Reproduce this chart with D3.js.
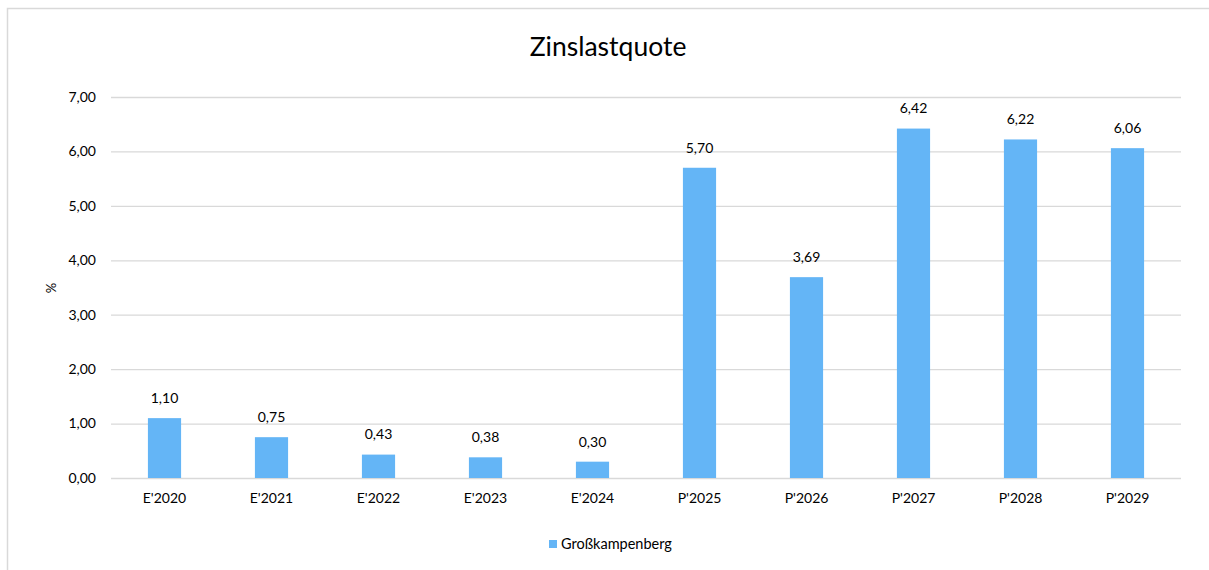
<!DOCTYPE html>
<html>
<head>
<meta charset="utf-8">
<script src="https://cdn.jsdelivr.net/npm/d3@7"></script>
<style>
  body { margin: 0; background: #fff; }
  text { font-family: Lato, "Noto Sans", sans-serif; fill: #000; }
</style>
</head>
<body>
<div id="chart"></div>
<script>
const width = 1209;
const height = 570;

// Daten
const categories = ["E'2020", "E'2021", "E'2022", "E'2023", "E'2024", "P'2025", "P'2026", "P'2027", "P'2028", "P'2029"];
const values = [1.10, 0.75, 0.43, 0.38, 0.30, 5.70, 3.69, 6.42, 6.22, 6.06];
const yTicks = [0, 1, 2, 3, 4, 5, 6, 7];
const seriesName = "Großkampenberg";
const title = "Zinslastquote";

const fmt = v => v.toFixed(2).replace(".", ",");

const svg = d3.select("#chart")
  .append("svg")
  .attr("width", width)
  .attr("height", height);

// Rahmen
svg.append("path")
  .attr("d", `M7.5,${height} V8.5 H${width}`)
  .attr("fill", "none")
  .attr("stroke", "#d9d9d9")
  .attr("stroke-width", 1.5);

const margin = { left: 111, right: 1181, top: 97, bottom: 478 };

const x = d3.scaleBand()
  .domain(categories)
  .range([margin.left, margin.right])
  .paddingInner(0.69)
  .paddingOuter(0.345);

const y = d3.scaleLinear()
  .domain([0, 7])
  .range([margin.bottom, margin.top]);

// Gitternetz
svg.append("g")
  .selectAll("line")
  .data(yTicks)
  .enter()
  .append("line")
  .attr("x1", margin.left)
  .attr("x2", margin.right)
  .attr("y1", d => y(d) + 0.5)
  .attr("y2", d => y(d) + 0.5)
  .attr("stroke", "#d9d9d9")
  .attr("stroke-width", 1.3);

// y-Achse Beschriftung
svg.append("g")
  .selectAll("text")
  .data(yTicks)
  .enter()
  .append("text")
  .attr("x", 96)
  .attr("y", d => y(d))
  .attr("dy", "0.35em")
  .attr("text-anchor", "end")
  .attr("font-size", 14)
  .text(d => fmt(d));

// Balken
svg.append("g")
  .selectAll("rect")
  .data(values)
  .enter()
  .append("rect")
  .attr("x", (d, i) => x(categories[i]))
  .attr("y", d => y(d))
  .attr("width", x.bandwidth())
  .attr("height", d => y(0) - y(d))
  .attr("fill", "#64b5f6");

// Werte
svg.append("g")
  .selectAll("text")
  .data(values)
  .enter()
  .append("text")
  .attr("x", (d, i) => x(categories[i]) + x.bandwidth() / 2)
  .attr("y", d => y(d) - 20)
  .attr("dy", "0.35em")
  .attr("text-anchor", "middle")
  .attr("font-size", 14)
  .text(d => fmt(d));

// x-Achse
svg.append("g")
  .selectAll("text")
  .data(categories)
  .enter()
  .append("text")
  .attr("x", d => x(d) + x.bandwidth() / 2)
  .attr("y", 498)
  .attr("dy", "0.35em")
  .attr("text-anchor", "middle")
  .attr("font-size", 14)
  .text(d => d);

// Achsentitel
svg.append("text")
  .attr("transform", "translate(51,288) rotate(-90)")
  .attr("text-anchor", "middle")
  .attr("dy", "0.35em")
  .attr("font-size", 13)
  .text("%");

// Titel
svg.append("text")
  .attr("x", 608)
  .attr("y", 56)
  .attr("text-anchor", "middle")
  .attr("font-size", 26.5)
  .text(title);

// Legende
const legend = svg.append("g").attr("transform", "translate(549,544)");
legend.append("rect")
  .attr("x", 0)
  .attr("y", -4)
  .attr("width", 8)
  .attr("height", 8)
  .attr("fill", "#64b5f6");
legend.append("text")
  .attr("x", 12)
  .attr("y", 0)
  .attr("dy", "0.35em")
  .attr("font-size", 14.5)
  .text(seriesName);
</script>
</body>
</html>
